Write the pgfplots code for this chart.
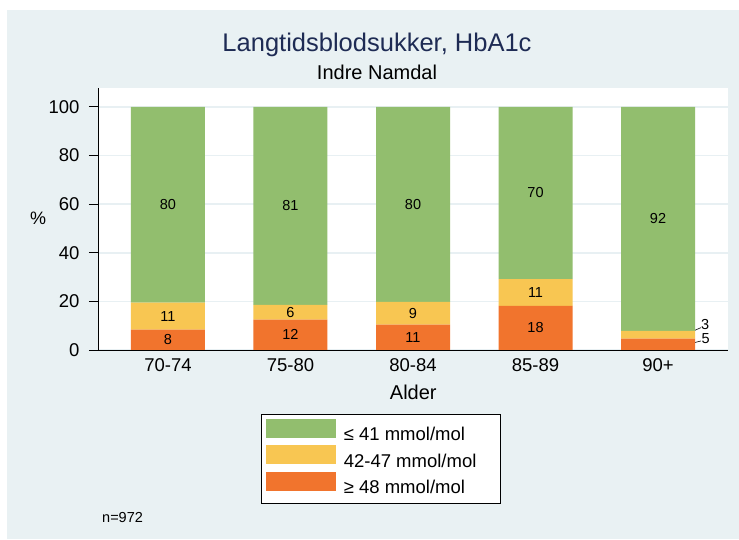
\documentclass[border=0pt]{standalone}
\usepackage{fontspec}
\setmainfont{Liberation Sans}
\usepackage{pgfplots}
\usepackage{pgfplotstable}
\pgfplotsset{compat=1.18}
\definecolor{panel}{RGB}{233,241,243}
\definecolor{gridc}{RGB}{232,240,243}
\definecolor{cgreen}{RGB}{146,190,110}
\definecolor{cyellow}{RGB}{248,198,82}
\definecolor{corange}{RGB}{241,116,45}
\definecolor{navy}{RGB}{30,43,84}

\pgfplotstableread{
x v lab
0 8.4 8
1 12.5 12
2 10.4 11
3 18.2 18
4 4.7 {}
}\orangedata
\pgfplotstableread{
x v lab
0 11.1 11
1 6.1 6
2 9.35 9
3 11.0 11
4 3.2 {}
}\yellowdata
\pgfplotstableread{
x v lab
0 80.5 80
1 81.4 81
2 80.25 80
3 70.8 70
4 92.1 92
}\greendata

\begin{document}
\begin{tikzpicture}
\fill[white] (0bp,0bp) rectangle (739bp,540bp);
\fill[panel] (7bp,1bp) rectangle (739bp,530bp);
\node[anchor=base, text=navy, font=\fontsize{25.5bp}{30bp}\selectfont] at (377bp,488bp) {Langtidsblodsukker, HbA1c};
\node[anchor=base, font=\fontsize{20bp}{24bp}\selectfont] at (377bp,460bp) {Indre Namdal};
\node[anchor=base west, inner sep=0pt, font=\fontsize{14.5bp}{17bp}\selectfont] at (102bp,18bp) {n=972};
\begin{axis}[
  at={(98.5bp,190bp)}, anchor=south west,
  scale only axis, width=629.5bp, height=262bp,
  xmin=-0.567, xmax=4.571, ymin=0, ymax=107.8,
  axis background/.style={fill=white},
  axis x line*=bottom, axis y line*=left,
  axis line style={line width=1bp, black},
  ybar stacked, bar width=74bp,
  xtick={0,1,2,3,4}, xticklabels={70-74,75-80,80-84,85-89,90+},
  ytick={0,20,40,60,80,100},
  xtick style={draw=none},
  ytick style={line width=1bp, black},
  tick align=outside, major tick length=9.5bp,
  ymajorgrids, grid style={gridc, line width=1.5bp},
  /pgf/number format/assume math mode=true,
  tick label style={font=\fontsize{18.5bp}{22bp}\selectfont},
  xticklabel style={anchor=base, yshift=-12bp},
  yticklabel style={xshift=-6bp},
  xlabel={Alder}, ylabel={\%},
  every axis x label/.style={at={(axis description cs:0.5,0)}, anchor=base, yshift=-49bp, font=\fontsize{20bp}{24bp}\selectfont},
  every axis y label/.style={at={(axis description cs:-0.0961,0.504)}, anchor=center, font=\fontsize{18bp}{22bp}\selectfont},
  point meta=explicit symbolic,
  nodes near coords,
  every node near coord/.append style={anchor=center, font=\fontsize{14.5bp}{17bp}\selectfont, text=black},
  legend style={at={(axis description cs:0.448,-0.2443)}, anchor=north, draw=black, line width=0.6bp, fill=white,
    inner xsep=4.8bp, inner ysep=4.8bp, row sep=0bp,
    font=\fontsize{18.5bp}{22bp}\selectfont, nodes={inner sep=3.2bp},
    /tikz/every odd column/.append style={column sep=4.6bp}},
  legend image code/.code={\fill[#1] (0bp,-3.3bp) rectangle (70bp,15.7bp);},
  legend cell align=left,
  reverse legend,
]
\addplot[fill=corange, draw=none] table[x=x, y=v, meta=lab] {\orangedata};
\addplot[fill=cyellow, draw=none] table[x=x, y=v, meta=lab] {\yellowdata};
\addplot[fill=cgreen, draw=none] table[x=x, y=v, meta=lab] {\greendata};
\addlegendentry{\makebox[148bp][l]{≥ 48 mmol/mol}}
\addlegendentry{\makebox[148bp][l]{42-47 mmol/mol}}
\addlegendentry{\makebox[148bp][l]{≤ 41 mmol/mol}}
\draw[line width=0.6bp] (axis cs:4.22,6.3) -- (axis cs:4.35,9.2);
\node[anchor=west, inner sep=0pt, font=\fontsize{14.5bp}{17bp}\selectfont] at (axis cs:4.35,10.3) {3};
\draw[line width=0.6bp] (axis cs:4.22,2.1) -- (axis cs:4.35,3.7);
\node[anchor=west, inner sep=0pt, font=\fontsize{14.5bp}{17bp}\selectfont] at (axis cs:4.355,4.5) {5};
\end{axis}
\end{tikzpicture}
\end{document}
